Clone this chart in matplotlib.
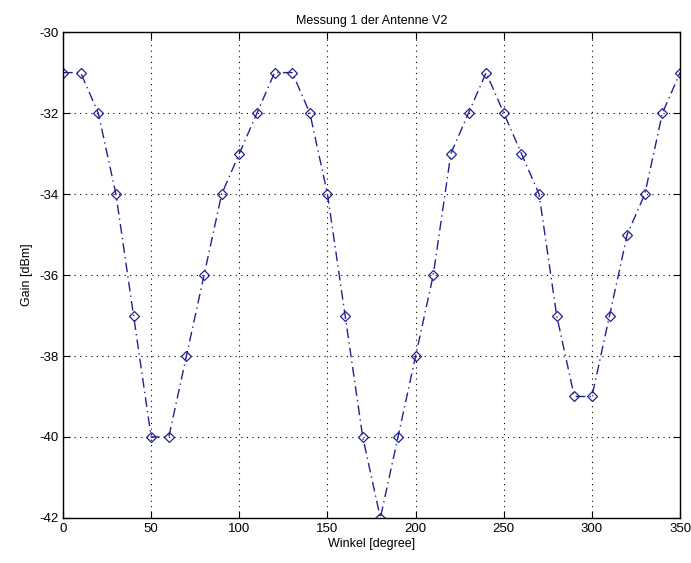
import matplotlib
matplotlib.use("Agg")
import matplotlib.pyplot as plt
import numpy as np

plt.rcParams['font.family'] = ['Liberation Sans', 'DejaVu Sans']
plt.rcParams['axes.unicode_minus'] = False

# measured angle and gain
winkel = list(range(0, 360, 10))
gain = [-31, -31, -32, -34, -37, -40, -40, -38, -36, -34,
        -33, -32, -31, -31, -32, -34, -37, -40, -42, -40,
        -38, -36, -33, -32, -31, -32, -33, -34, -37, -39,
        -39, -37, -35, -34, -32, -31]

x_ticks = [0, 50, 100, 150, 200, 250, 300, 350]
y_ticks = [-42, -40, -38, -36, -34, -32, -30]

fig = plt.figure(figsize=(6.91, 5.63), dpi=100)
ax = fig.add_axes([0.0912, 0.080, 0.893, 0.863])

ax.plot(winkel, gain, linestyle='-.', color='#22228f', linewidth=1.0,
        marker='D', markersize=5, markerfacecolor='none',
        markeredgecolor='#22228f', markeredgewidth=0.9, dashes=(7, 3, 1, 3))

ax.set_xlim(0, 350)
ax.set_ylim(-42, -30)
ax.set_xticks(x_ticks)
ax.set_yticks(y_ticks)
ax.grid(True, linestyle=(0, (1, 4)), color='black', linewidth=0.8)
ax.tick_params(direction='in', top=True, right=True, labelsize=9.5, length=5)
for s in ax.spines.values():
    s.set_linewidth(1.0)

ax.set_title('Messung 1 der Antenne V2', fontsize=9)
ax.set_xlabel('Winkel [degree]', fontsize=9, labelpad=2)
ax.set_ylabel('Gain [dBm]', fontsize=9)

fig.savefig('out.png', dpi=100)
